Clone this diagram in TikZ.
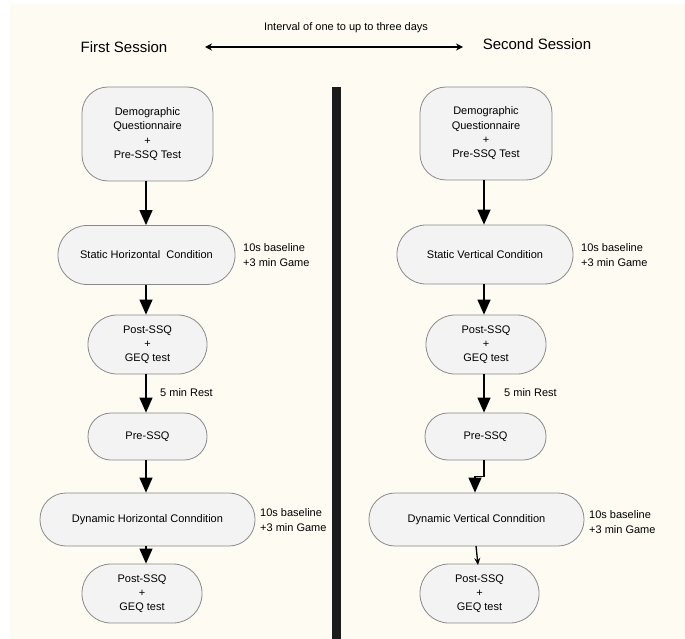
\documentclass[tikz,border=0pt]{standalone}
\usepackage{fontspec}
\setmainfont{Liberation Sans}
\usetikzlibrary{arrows.meta}
\definecolor{cream}{HTML}{FDFBF2}
\definecolor{boxfill}{HTML}{F3F3F3}
\definecolor{boxline}{HTML}{8A8A8A}
\definecolor{barcol}{HTML}{1C1C1C}
\tikzset{
  flowbox/.style={draw=boxline, fill=boxfill, line width=0.8pt, inner sep=0pt,
    align=center, font=\fontsize{11}{14.3}\selectfont},
  note/.style={anchor=west, align=left, inner sep=0pt, font=\fontsize{11}{15}\selectfont},
  flowarrow/.style={draw=black, line width=1.3pt, -{Triangle[width=13pt,length=15pt]}},
  smallarrow/.style={draw=black, line width=1.3pt, -{Stealth[width=6pt,length=7pt]}},
  head/.style={inner sep=0pt, font=\fontsize{15}{18}\selectfont}
}
\begin{document}
\begin{tikzpicture}[x=1pt,y=-1pt]
\useasboundingbox (0,0) rectangle (685,639);
\fill[white] (0,0) rectangle (685,639);
\fill[cream] (10,4) rectangle (685,639);

% header
\node[head] (fs) at (124,47) {First Session};
\node[head] (ss) at (537,44) {Second Session};
\coordinate (al) at (205,47);
\coordinate (ar) at (463,47);
\draw[line width=2pt, {Stealth[width=7pt,length=7pt]}-{Stealth[width=7pt,length=7pt]}] (al) -- (ar);
\node[inner sep=0pt, font=\fontsize{11}{13}\selectfont] (iv) at (346,28) {Interval of one to up to three days};

% divider
\fill[barcol] (332,87) rectangle (341,639);

% left column
\node[flowbox, minimum width=131pt, minimum height=94pt, rounded corners=26pt] (d1) at (147.5,134) {Demographic\\Questionnaire\\+\\Pre-SSQ Test};
\node[flowbox, minimum width=177pt, minimum height=59pt, rounded corners=29pt] (s1) at (146.5,255) {Static Horizontal\ \ Condition};
\node[flowbox, minimum width=119pt, minimum height=59pt, rounded corners=29pt] (p1) at (147.5,344.5) {Post-SSQ\\+\\GEQ test};
\node[flowbox, minimum width=119pt, minimum height=47pt, rounded corners=23pt] (q1) at (147.5,436.5) {Pre-SSQ};
\node[flowbox, minimum width=215pt, minimum height=53pt, rounded corners=26pt] (y1) at (147.5,519.5) {Dynamic Horizontal Conndition};
\node[flowbox, minimum width=120pt, minimum height=59pt, rounded corners=29pt] (g1) at (142,593.5) {Post-SSQ\\+\\GEQ test};

\node[note] (n1) at (243,255.5) {10s baseline\\+3 min Game};
\node[note] (n2) at (260,520) {10s baseline\\+3 min Game};
\node[note] (r1) at (160,393) {5 min Rest};

\coordinate (la) at (146,0);
\draw[flowarrow] (la |- d1.south) -- (la |- s1.north);
\draw[flowarrow] (la |- s1.south) -- (la |- p1.north);
\draw[flowarrow] (la |- p1.south) -- (la |- q1.north);
\draw[flowarrow] (la |- q1.south) -- (la |- y1.north);
\draw[flowarrow] (la |- y1.south) -- (la |- g1.north);

% right column
\node[flowbox, minimum width=132pt, minimum height=93pt, rounded corners=26pt] (d2) at (486,133.5) {Demographic\\Questionnaire\\+\\Pre-SSQ Test};
\node[flowbox, minimum width=176pt, minimum height=59pt, rounded corners=29pt] (s2) at (485,254.5) {Static Vertical Condition};
\node[flowbox, minimum width=120pt, minimum height=59pt, rounded corners=29pt] (p2) at (486,344.5) {Post-SSQ\\+\\GEQ test};
\node[flowbox, minimum width=121pt, minimum height=47pt, rounded corners=23pt] (q2) at (485.5,436.5) {Pre-SSQ};
\node[flowbox, minimum width=215pt, minimum height=53pt, rounded corners=26pt] (y2) at (476.5,519.5) {Dynamic Vertical Conndition};
\node[flowbox, minimum width=119pt, minimum height=59pt, rounded corners=29pt] (g2) at (479.5,593.5) {Post-SSQ\\+\\GEQ test};

\node[note] (n3) at (581,255.5) {10s baseline\\+3 min Game};
\node[note] (n4) at (589,522.5) {10s baseline\\+3 min Game};
\node[note] (r2) at (504,393) {5 min Rest};

\coordinate (ra) at (484,0);
\coordinate (rb) at (475,0);
\draw[flowarrow] (ra |- d2.south) -- (ra |- s2.north);
\draw[flowarrow] (ra |- s2.south) -- (ra |- p2.north);
\draw[flowarrow] (ra |- p2.south) -- (ra |- q2.north);
\draw[flowarrow] (ra |- q2.south) -- ++(0,16) -| (rb |- y2.north);
\draw[smallarrow] (476,546) -- (478,565);
\end{tikzpicture}
\end{document}
